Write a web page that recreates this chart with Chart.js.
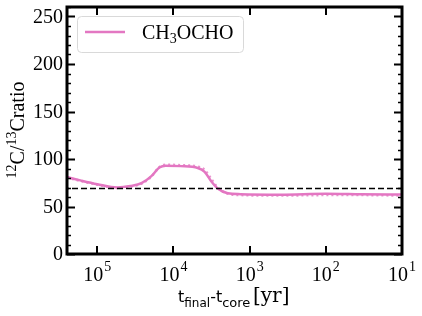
<!DOCTYPE html>
<html>
<head>
<meta charset="utf-8">
<script src="https://cdn.jsdelivr.net/npm/chart.js@4.4.0/dist/chart.umd.min.js"></script>
<style>
  html, body { margin: 0; padding: 0; background: #fff; }
</style>
</head>
<body>
<canvas id="ratio" width="422" height="316"></canvas>
<script>
// t_final - t_core in yr (x axis runs backwards)
const timeYr = [2.5e5, 1.67e5, 1e5, 5.46e4, 3.68e4, 2.63e4, 1.95e4, 1.53e4, 1.27e4, 8.1e3, 4.8e3, 3.9e3, 3.16e3, 2.63e3, 1.94e3, 1.31e3, 391, 100, 34.7, 10];
const ratioSolid = [81, 77.5, 73.5, 70, 71.5, 74.5, 82, 91, 93, 92.5, 90.5, 86.5, 76, 69, 64, 63, 62.5, 63.5, 63, 62.5];
const ratioDotted = [80.5, 77, 73, 69.5, 71, 74, 81.5, 91.5, 94, 93.5, 92, 88.5, 78.5, 70, 63.5, 62, 61.5, 62, 62, 61.5];
const refRatio = 69;
const xRange = [10, 2.5e5];

const xTicks = [1e5, 1e4, 1e3, 1e2, 1e1];
const xTickExp = ['5', '4', '3', '2', '1'];
const yTicks = [0, 50, 100, 150, 200, 250];
const pink = '#e377c2';
const serif = '"Liberation Serif", "DejaVu Serif", serif';
const sans = '"DejaVu Sans", sans-serif';

const toPts = (xs, ys) => xs.map((t, i) => ({ x: t, y: ys[i] }));

// frame, inward ticks, labels, legend, titles
const decor = {
  id: 'decor',
  afterDraw(chart) {
    const { ctx, chartArea: a, scales: { x, y } } = chart;
    ctx.save();
    ctx.strokeStyle = '#000';
    ctx.fillStyle = '#000';

    for (let v = 0; v <= 260; v += 10) {
      const py = Math.round(y.getPixelForValue(v)) + 0.5;
      const major = v % 50 === 0;
      const len = major ? 8 : 4;
      ctx.lineWidth = major ? 2 : 1.3;
      ctx.beginPath();
      ctx.moveTo(a.left, py); ctx.lineTo(a.left + len, py);
      ctx.moveTo(a.right, py); ctx.lineTo(a.right - len, py);
      ctx.stroke();
    }
    xTicks.forEach(t => {
      const px = Math.round(x.getPixelForValue(t));
      ctx.lineWidth = 2;
      ctx.beginPath();
      ctx.moveTo(px, a.bottom); ctx.lineTo(px, a.bottom - 8);
      ctx.moveTo(px, a.top); ctx.lineTo(px, a.top + 8);
      ctx.stroke();
    });

    ctx.lineWidth = 3;
    ctx.strokeRect(a.left, a.top, a.right - a.left, a.bottom - a.top);

    // y tick labels
    ctx.font = '20px ' + serif;
    ctx.textAlign = 'right';
    ctx.textBaseline = 'middle';
    yTicks.forEach(v => ctx.fillText(String(v), a.left - 4, y.getPixelForValue(v) + 1));

    // x tick labels 10^n
    xTicks.forEach((t, i) => {
      const px = x.getPixelForValue(t);
      ctx.font = '20px ' + serif;
      const w1 = ctx.measureText('10').width;
      ctx.font = '14px ' + serif;
      const w2 = ctx.measureText(xTickExp[i]).width;
      const x0 = px - (w1 + w2 + 1) / 2;
      ctx.textAlign = 'left';
      ctx.textBaseline = 'alphabetic';
      ctx.font = '20px ' + serif;
      ctx.fillText('10', x0, 281);
      ctx.font = '14px ' + serif;
      ctx.fillText(xTickExp[i], x0 + w1 + 1, 271);
    });

    // x title
    let cx = 178;
    const part = (txt, font, dy) => {
      ctx.font = font;
      ctx.fillText(txt, cx, 302 + dy);
      cx += ctx.measureText(txt).width;
    };
    ctx.textAlign = 'left';
    part('t', '16px ' + sans, 0);
    part('final', '12px ' + sans, 5);
    part('-t', '16px ' + sans, 0);
    part('core', '13px ' + sans, 5);
    cx = 253;
    part('[yr]', '20px "DejaVu Serif", serif', 0);

    // y title (rotated)
    ctx.save();
    ctx.translate(24, 130);
    ctx.rotate(-Math.PI / 2);
    const segs = [['12', 14, -8], ['C/', 20, 0], ['13', 14, -8], ['Cratio', 20, 0]];
    let tw = 0;
    segs.forEach(s => { ctx.font = s[1] + 'px ' + serif; tw += ctx.measureText(s[0]).width; });
    let sx = -tw / 2;
    segs.forEach(s => {
      ctx.font = s[1] + 'px ' + serif;
      ctx.fillText(s[0], sx, s[2]);
      sx += ctx.measureText(s[0]).width;
    });
    ctx.restore();

    // legend
    ctx.lineWidth = 1;
    ctx.strokeStyle = '#d9d9d9';
    ctx.fillStyle = 'rgba(255,255,255,0.8)';
    ctx.beginPath();
    ctx.roundRect(77.5, 16.5, 166, 36, 4);
    ctx.fill();
    ctx.stroke();
    ctx.strokeStyle = pink;
    ctx.lineWidth = 2.5;
    ctx.beginPath();
    ctx.moveTo(85, 32); ctx.lineTo(125, 32);
    ctx.stroke();
    ctx.fillStyle = '#000';
    cx = 142;
    const lp = (txt, size, dy) => {
      ctx.font = size + 'px ' + serif;
      ctx.fillText(txt, cx, 39 + dy);
      cx += ctx.measureText(txt).width;
    };
    lp('CH', 20, 0);
    lp('3', 14, 4);
    lp('OCHO', 20, 0);

    ctx.restore();
  }
};

new Chart(document.getElementById('ratio'), {
  type: 'line',
  data: {
    datasets: [
      {
        data: toPts(xRange, [refRatio, refRatio]),
        borderColor: '#000', borderWidth: 1.5, borderDash: [6, 3],
        pointRadius: 0, tension: 0
      },
      {
        data: toPts(timeYr, ratioDotted),
        borderColor: 'rgba(227,119,194,0.8)', borderWidth: 2.5, borderDash: [2, 3],
        pointRadius: 0, cubicInterpolationMode: 'monotone'
      },
      {
        label: 'CH3OCHO',
        data: toPts(timeYr, ratioSolid),
        borderColor: pink, borderWidth: 2.5,
        pointRadius: 0, cubicInterpolationMode: 'monotone'
      }
    ]
  },
  options: {
    responsive: false,
    animation: false,
    devicePixelRatio: 1,
    layout: { padding: { left: 67, right: 20, top: 7, bottom: 62 } },
    plugins: { legend: { display: false }, tooltip: { enabled: false } },
    scales: {
      x: { type: 'logarithmic', reverse: true, min: xRange[0], max: xRange[1], display: false },
      y: { type: 'linear', min: 0, max: 260, display: false }
    }
  },
  plugins: [decor]
});
</script>
</body>
</html>
